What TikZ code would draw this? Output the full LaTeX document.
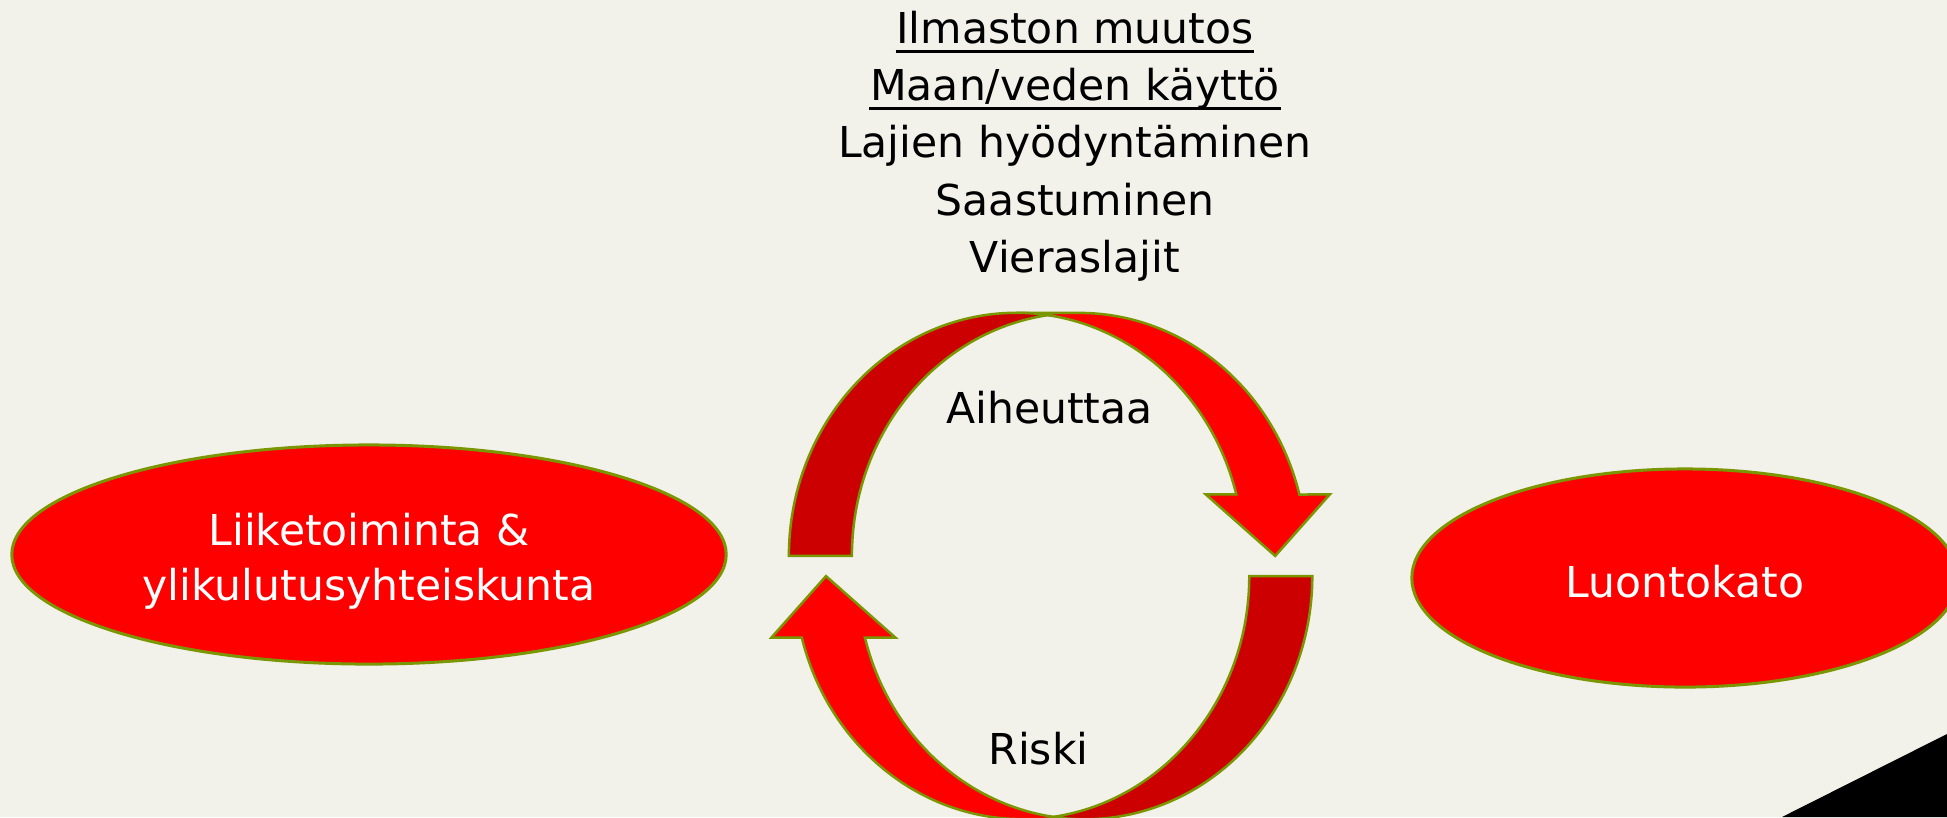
\documentclass[tikz,border=0pt]{standalone}
\usepackage{fontspec}
\setmainfont{DejaVu Sans}
\usetikzlibrary{shapes.geometric}
\definecolor{bgc}{RGB}{242,241,234}
\definecolor{brightred}{RGB}{255,0,0}
\definecolor{shadered}{RGB}{204,0,0}
\definecolor{olivec}{RGB}{122,150,0}
\tikzset{
  txt/.style={inner sep=0pt, anchor=base, font=\fontsize{12.1pt}{14.5pt}\selectfont, text=black},
  wtxt/.style={txt, text=white},
  ovalbox/.style={ellipse, fill=brightred, draw=olivec, line width=0.03cm, inner sep=0pt},
  bandfront/.style={fill=brightred, draw=olivec, line width=0.025cm, line join=miter},
  bandback/.style={fill=shadered, draw=olivec, line width=0.025cm, line join=miter},
  ularc/.style={x radius=2.274cm, y radius=2.43cm},
}
\newcommand{\curvedarrowshape}{%
  \path[bandfront] (224.6,10.1) -- (155.2,71.6) -- (185.7,71.6)
    arc[start angle=14.66, end angle=90, ularc] -- (28.7,253.1)
    arc[start angle=90, end angle=14.66, ularc] -- (279.2,71.6) -- cycle;
  \path[bandback] (-261.7,10.1)
    arc[start angle=180, end angle=82.04, ularc]
    arc[start angle=97.96, end angle=180, ularc] -- cycle;
}
\begin{document}
\begin{tikzpicture}[x=0.01cm, y=-0.01cm]
  \useasboundingbox (0,0) rectangle (1947,817);
  \fill[bgc] (0,0) rectangle (1947,817);
  \clip (0,0) rectangle (1947,817);
  \fill[black] (1782,817) -- (1947,734) -- (1947,817) -- cycle;

  % top list
  \node[txt] (t1) at (1075,43) {Ilmaston muutos};
  \node[txt] (t2) at (1075,100) {Maan/veden käyttö};
  \node[txt] (t3) at (1075,157) {Lajien hyödyntäminen};
  \node[txt] (t4) at (1075,215) {Saastuminen};
  \node[txt] (t5) at (1075,272) {Vieraslajit};
  \draw[line width=0.025cm] ([yshift=-0.085cm]t1.base west) -- ([yshift=-0.085cm]t1.base east);
  \draw[line width=0.025cm] ([yshift=-0.085cm]t2.base west) -- ([yshift=-0.085cm]t2.base east);

  % ellipses
  \node[ovalbox, minimum width=7.14cm, minimum height=2.19cm] (biz) at (369,554.5) {};
  \node[wtxt] (bizA) at (369,545) {Liiketoiminta \&};
  \node[wtxt] (bizB) at (369,600) {ylikulutusyhteiskunta};
  \node[ovalbox, minimum width=5.46cm, minimum height=2.18cm] (loss) at (1685,578) {};
  \node[wtxt] (lossT) at (1685,597) {Luontokato};

  % circular arrows
  \begin{scope}[shift={(1050.6,566)}, x=0.01cm, y=0.01cm]
    \curvedarrowshape
  \end{scope}
  \begin{scope}[shift={(1050.6,566)}, rotate=180, x=0.01cm, y=0.01cm]
    \curvedarrowshape
  \end{scope}

  \node[txt] (cause) at (1049.5,423) {Aiheuttaa};
  \node[txt] (risk) at (1038.5,764) {Riski};
\end{tikzpicture}
\end{document}
